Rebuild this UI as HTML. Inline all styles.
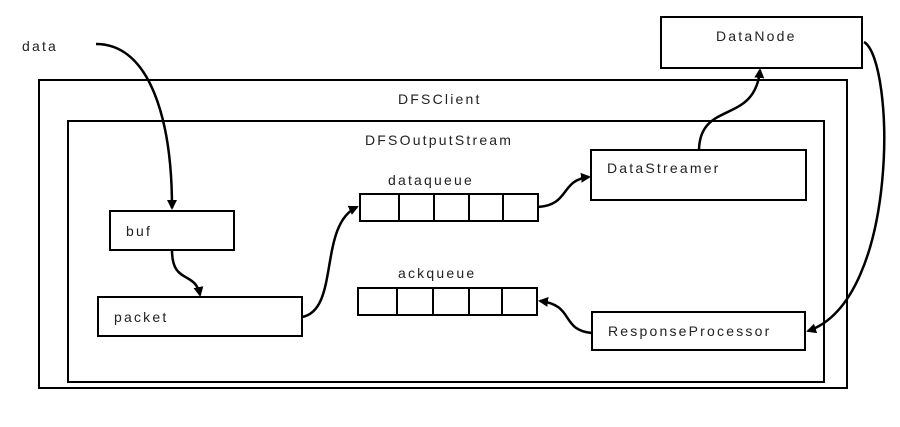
<!DOCTYPE html>
<html><head><style>
body{margin:0;background:#fff;}
svg text{font-family:"Liberation Sans",sans-serif;font-size:14px;fill:#222;letter-spacing:2.2px;}
</style></head><body>
<svg width="900" height="422" viewBox="0 0 900 422" xmlns="http://www.w3.org/2000/svg">
<defs><marker id="a" markerWidth="10" markerHeight="10" refX="8" refY="5" orient="auto" markerUnits="userSpaceOnUse"><path d="M0,0 L10,5 L0,10 z" fill="#000"/></marker></defs>
<g fill="none" stroke="#000" stroke-width="2">
<rect x="39" y="80" width="808" height="308"/>
<rect x="68" y="121" width="756" height="261"/>
<rect x="661" y="17" width="201" height="51"/>
<rect x="591" y="150" width="215" height="50"/>
<rect x="110" y="211" width="124" height="39"/>
<rect x="98" y="297" width="204" height="39"/>
<rect x="592" y="312" width="213" height="38"/>
<rect x="360" y="194" width="178" height="27"/>
<path d="M399,194V221M434,194V221M469,194V221M503,194V221"/>
<rect x="358" y="288" width="179" height="27"/>
<path d="M397,288V315M433,288V315M469,288V315M502,288V315"/>
<g stroke-width="2.5" marker-end="url(#a)">
<path d="M96,44 C150,44 172,120 172,208"/>
<path d="M172,250 C172,285 195,270 200,295"/>
<path d="M302,317 C340,310 318,225 357,207"/>
<path d="M538,207 C570,205 560,180 589,177"/>
<path d="M699,150 C700,100 755,125 760,70"/>
<path d="M864,42 C895,60 900,300 808,331"/>
<path d="M592,333 C560,330 575,305 540,301"/>
</g>
</g>
<text x="22" y="51">data</text>
<text x="398" y="104">DFSClient</text>
<text x="365" y="145">DFSOutputStream</text>
<text x="388" y="185">dataqueue</text>
<text x="398" y="278">ackqueue</text>
<text x="607" y="173">DataStreamer</text>
<text x="716" y="41">DataNode</text>
<text x="126" y="236">buf</text>
<text x="114" y="322">packet</text>
<text x="608" y="336">ResponseProcessor</text>
</svg>
</body></html>
